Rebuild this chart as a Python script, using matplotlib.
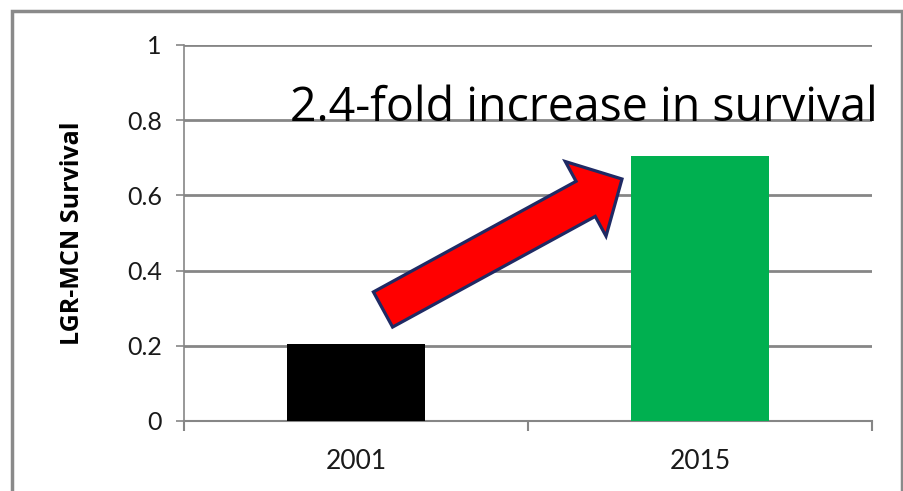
import matplotlib
matplotlib.use("Agg")
import matplotlib.pyplot as plt
from matplotlib.patches import FancyArrow, Rectangle

# survival fraction per release year
years = ["2001", "2015"]
survival = [0.205, 0.705]
bar_colors = ["#000000", "#00B050"]
y_ticks = [0, 0.2, 0.4, 0.6, 0.8, 1.0]
y_tick_labels = ["0", "0.2", "0.4", "0.6", "0.8", "1"]
callout = "2.4-fold increase in survival"

W, H = 904, 491
fig = plt.figure(figsize=(W / 100, H / 100), dpi=100)
fig.patch.set_facecolor("white")

# plot area in pixel terms
ax = fig.add_axes([184 / W, (H - 421) / H, 688 / W, 376 / H])
grey = "#868686"

x = list(range(len(years)))
ax.bar(x, survival, width=0.4, color=bar_colors, zorder=3)
ax.set_xlim(-0.5, 1.5)
ax.set_ylim(0, 1)

ax.set_yticks(y_ticks)
ax.set_yticklabels(y_tick_labels, fontfamily="Lato", fontsize=18, color="#1a1a1a")
ax.tick_params(axis="y", direction="out", length=6, width=1.2, color=grey, pad=10)
ax.yaxis.grid(True, color=grey, linewidth=2, zorder=0)
ax.set_axisbelow(True)

ax.set_xticks(x)
ax.set_xticklabels(years, fontfamily="Lato", fontsize=19, color="#1a1a1a")
ax.set_xticks([-0.5, 0.5, 1.5], minor=True)
ax.tick_params(axis="x", which="major", length=0, pad=20)
ax.tick_params(axis="x", which="minor", direction="out", length=7, width=1.5, color=grey)

for side in ["top", "right"]:
    ax.spines[side].set_visible(False)
ax.spines["left"].set_color(grey)
ax.spines["left"].set_linewidth(1.2)
ax.spines["bottom"].set_color(grey)
ax.spines["bottom"].set_linewidth(1.5)

ax.set_ylabel("LGR-MCN Survival", fontfamily="Open Sans", fontweight="bold",
              fontsize=18, labelpad=30)

# outer frame
fig.add_artist(Rectangle((12 / W, -0.05), 890 / W, (H - 11) / H + 0.05,
                         transform=fig.transFigure, fill=False,
                         edgecolor="#8a8a8a", linewidth=2.5))

# big red arrow between the bars (inches from bottom-left)
arrow = FancyArrow(3.83, (H - 309.5) / 100, 2.39, 1.305, width=0.40,
                   head_width=0.85, head_length=0.414,
                   length_includes_head=True, transform=fig.dpi_scale_trans,
                   facecolor="#FF0000", edgecolor="#1F2A64", linewidth=2.3,
                   zorder=5)
fig.add_artist(arrow)

fig.text(290 / W, (H - 121) / H, callout, fontfamily="Open Sans",
         fontsize=33.5, va="baseline", ha="left", color="black", zorder=6)

fig.savefig("out.png", dpi=100, facecolor="white")
